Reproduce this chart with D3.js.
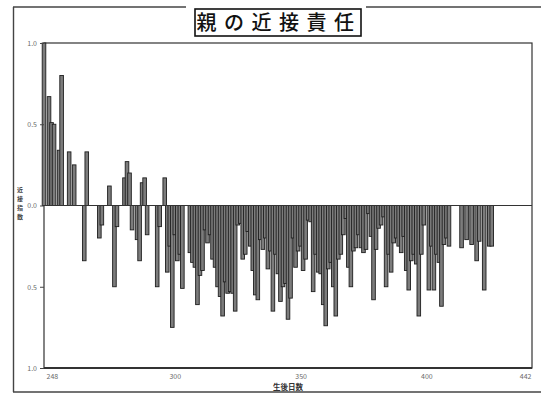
<!DOCTYPE html>
<html><head><meta charset="utf-8">
<script src="https://cdn.jsdelivr.net/npm/d3@7"></script>
<style>
html,body{margin:0;padding:0;background:#fff;}
svg{display:block;}
text{font-family:"Noto Sans CJK JP","Noto Sans",sans-serif;}
</style></head>
<body>
<script>
const title = "親の近接責任";
const yTitle = "近接指数";
const xTitle = "生後日数";
const xTickValues = [248, 300, 350, 400, 442];
const yTickValues = [1, 0.5, 0, -0.5, -1];
const yTickLabels = ["1.0", "0.5", "0.0", "0.5", "1.0"];
const days = [
 248,250,251,252,254,255,258,260,264,265,270,271,274,276,277,280,281,282,283,285,286,287,288,289,293,294,296,
 297,298,299,300,301,302,303,306,307,308,309,310,311,312,313,314,315,316,317,318,319,
 320,321,322,323,324,325,326,327,328,329,330,331,332,333,334,335,336,337,338,339,
 340,341,342,343,344,345,346,347,348,349,350,351,352,353,354,355,356,357,358,359,
 360,361,362,363,364,365,366,367,368,369,370,371,372,373,374,375,376,377,378,379,
 380,381,382,383,384,385,386,387,388,389,390,391,392,393,394,395,396,397,398,399,
 401,402,403,404,405,406,407,408,409,414,416,418,420,421,423,425,426];
const values = [
 1.00,0.67,0.51,0.50,0.34,0.80,0.33,0.25,-0.34,0.33,-0.20,-0.12,0.12,-0.50,-0.13,0.17,0.27,0.20,-0.15,-0.21,-0.34,0.14,0.17,-0.18,-0.50,-0.13,0.17,
 -0.41,-0.25,-0.75,-0.18,-0.34,-0.30,-0.51,-0.29,-0.35,-0.38,-0.61,-0.43,-0.40,-0.15,-0.23,-0.18,-0.33,-0.38,-0.50,-0.56,-0.68,
 -0.47,-0.54,-0.53,-0.54,-0.65,-0.12,-0.11,-0.33,-0.30,-0.16,-0.25,-0.40,-0.55,-0.58,-0.21,-0.27,-0.20,-0.39,-0.28,-0.65,
 -0.30,-0.42,-0.59,-0.50,-0.48,-0.70,-0.57,-0.20,-0.38,-0.28,-0.25,-0.40,-0.33,-0.09,-0.10,-0.53,-0.30,-0.41,-0.42,-0.61,
 -0.74,-0.39,-0.35,-0.50,-0.68,-0.33,-0.30,-0.18,-0.08,-0.38,-0.50,-0.28,-0.26,-0.18,-0.26,-0.29,-0.27,-0.05,-0.19,-0.58,
 -0.27,-0.14,-0.12,-0.07,-0.50,-0.30,-0.41,-0.23,-0.20,-0.25,-0.29,-0.19,-0.40,-0.52,-0.34,-0.30,-0.36,-0.68,-0.30,-0.12,
 -0.52,-0.25,-0.52,-0.30,-0.35,-0.62,-0.24,-0.20,-0.25,-0.26,-0.21,-0.24,-0.34,-0.22,-0.52,-0.25,-0.25];

const W = 541, H = 397;
const L = 44, R = 532, T = 43, B = 368;
const svg = d3.select("body").append("svg").attr("width", W).attr("height", H);

// outer frame
const frame = svg.append("g").attr("stroke", "#444").attr("stroke-width", 1.4).attr("fill", "none");
frame.append("line").attr("x1", 13.5).attr("y1", 7).attr("x2", 13.5).attr("y2", 392);
frame.append("line").attr("x1", 13).attr("y1", 7).attr("x2", 186).attr("y2", 7);
frame.append("line").attr("x1", 366).attr("y1", 7).attr("x2", 541).attr("y2", 7);
frame.append("line").attr("x1", 13).attr("y1", 392).attr("x2", 541).attr("y2", 392);

// title box
svg.append("rect").attr("x", 195).attr("y", 9).attr("width", 166).attr("height", 27)
  .attr("fill", "#fff").attr("stroke", "#111").attr("stroke-width", 1.6);
svg.append("text").attr("x", 279).attr("y", 30).attr("text-anchor", "middle")
  .attr("font-size", 20).attr("font-weight", 500).attr("letter-spacing", 7.5).attr("fill", "#111")
  .text(title);

const x = d3.scaleLinear().domain([248, 442]).range([L, R]);
const y = d3.scaleLinear().domain([-1, 1]).range([B, T]);

// plot frame
svg.append("rect").attr("x", L).attr("y", T).attr("width", R - L).attr("height", B - T)
  .attr("fill", "none").attr("stroke", "#333").attr("stroke-width", 1.2);

// bars
const data = days.map((d, i) => ({day: d, v: values[i]}));
const bw = 3.6;
svg.append("g").selectAll("rect").data(data).join("rect")
  .attr("x", d => x(d.day) - bw / 2)
  .attr("width", bw)
  .attr("y", d => Math.min(y(d.v), y(0)))
  .attr("height", d => Math.abs(y(d.v) - y(0)))
  .attr("fill", "#7c7c7c").attr("stroke", "#1e1e1e").attr("stroke-width", 0.9);

// zero line
svg.append("line").attr("x1", L).attr("x2", R).attr("y1", y(0)).attr("y2", y(0))
  .attr("stroke", "#333").attr("stroke-width", 1.1);

// bottom axis line thicker
svg.append("line").attr("x1", L).attr("x2", R).attr("y1", B).attr("y2", B)
  .attr("stroke", "#333").attr("stroke-width", 2);

// y axis
const yAxis = svg.append("g").attr("transform", `translate(${L},0)`)
  .call(d3.axisLeft(y).tickValues(yTickValues).tickSize(4).tickFormat((d, i) => yTickLabels[i]));
yAxis.select(".domain").remove();
yAxis.selectAll("line").attr("stroke", "#444");
yAxis.selectAll("text").attr("font-size", 7).attr("fill", "#6a6a6a")
  .attr("font-family", "'DejaVu Sans',sans-serif");

// x axis
const xAxis = svg.append("g").attr("transform", `translate(0,${B})`)
  .call(d3.axisBottom(x).tickValues(xTickValues).tickSize(0).tickPadding(6));
xAxis.select(".domain").remove();
xAxis.selectAll("text").attr("font-size", 7).attr("fill", "#6a6a6a")
  .attr("font-family", "'DejaVu Sans',sans-serif")
  .attr("text-anchor", d => d === 248 ? "start" : (d === 442 ? "end" : "middle"))
  .attr("dx", d => d === 248 ? 2 : (d === 442 ? -1 : 0));

// axis titles
svg.append("text").attr("x", 288).attr("y", 390).attr("text-anchor", "middle")
  .attr("font-size", 7.5).attr("font-weight", 700).attr("fill", "#333").text(xTitle);
svg.append("g").selectAll("text").data(Array.from(yTitle)).join("text")
  .attr("x", 20).attr("y", (d, i) => 192 + i * 9)
  .attr("text-anchor", "middle").attr("font-size", 6).attr("font-weight", 700).attr("fill", "#444")
  .text(d => d);
</script>
</body></html>
